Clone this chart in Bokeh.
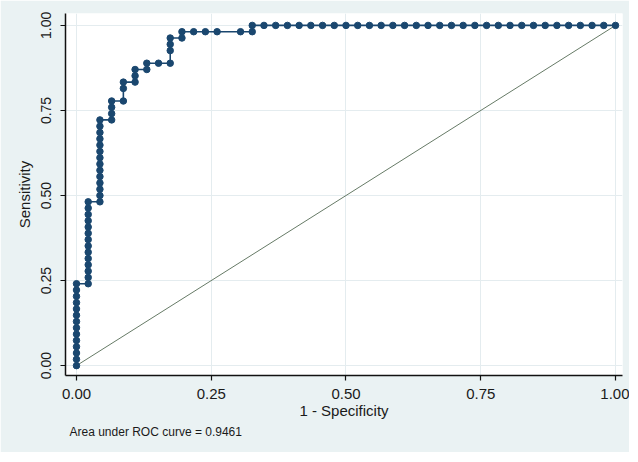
from bokeh.plotting import figure
from bokeh.models import Range1d, Title, FixedTicker, NumeralTickFormatter
from bokeh.embed import file_html
from bokeh.resources import INLINE

# ROC points: counts of negatives (46) and positives (54)
n_neg = 46
n_pos = 54
fp_count = [0, 0, 0, 0, 0, 0, 0, 0, 0, 0, 0, 0, 0, 0,
            1, 1, 1, 1, 1, 1, 1, 1, 1, 1, 1, 1, 1, 1,
            2, 2, 2, 2, 2, 2, 2, 2, 2, 2, 2, 2, 2, 2,
            3, 3, 3, 3,
            4, 4, 4,
            5, 5, 5,
            6, 6,
            7,
            8, 8, 8, 8,
            9, 9,
            10, 11, 12, 14,
            15, 15,
            16, 17, 18, 19, 20, 21, 22, 23, 24, 25, 26, 27, 28, 29, 30, 31,
            32, 33, 34, 35, 36, 37, 38, 39, 40, 41, 42, 43, 44, 45, 46]
tp_count = [0, 1, 2, 3, 4, 5, 6, 7, 8, 9, 10, 11, 12, 13,
            13, 14, 15, 16, 17, 18, 19, 20, 21, 22, 23, 24, 25, 26,
            26, 27, 28, 29, 30, 31, 32, 33, 34, 35, 36, 37, 38, 39,
            39, 40, 41, 42,
            42, 44, 45,
            45, 46, 47,
            47, 48,
            48,
            48, 50, 51, 52,
            52, 53,
            53, 53, 53, 53,
            53, 54,
            54, 54, 54, 54, 54, 54, 54, 54, 54, 54, 54, 54, 54, 54, 54, 54,
            54, 54, 54, 54, 54, 54, 54, 54, 54, 54, 54, 54, 54, 54, 54]
ref_x = [0.0, 1.0]
ref_y = [0.0, 1.0]
tick_values = [0.0, 0.25, 0.5, 0.75, 1.0]
auc_note = "Area under ROC curve = 0.9461"

fpr = [c / n_neg for c in fp_count]
tpr = [c / n_pos for c in tp_count]

BG = "#EAF2F3"
NAVY = "#1A476F"
FONT = "Liberation Sans"

p = figure(width=629, height=452, output_backend="svg", toolbar_location=None,
           x_range=Range1d(-0.0204, 1.013), y_range=Range1d(-0.029, 1.035),
           min_border_left=65, min_border_top=13, min_border_right=7,
           min_border_bottom=77)
p.background_fill_color = "white"
p.border_fill_color = BG
p.outline_line_color = None

p.line(ref_x, ref_y, line_color="#667A66", line_width=1)
p.line(fpr, tpr, line_color=NAVY, line_width=1.6)
p.scatter(fpr, tpr, size=6.5, fill_color=NAVY, line_color=NAVY)

for ax in (p.xaxis[0], p.yaxis[0]):
    ax.ticker = FixedTicker(ticks=tick_values)
    ax.formatter = NumeralTickFormatter(format="0.00")
    ax.axis_line_color = "#111111"
    ax.axis_line_width = 1.5
    ax.major_tick_line_color = "#111111"
    ax.major_tick_line_width = 1.2
    ax.major_tick_out = 5
    ax.major_tick_in = 0
    ax.minor_tick_line_color = None
    ax.major_label_text_font = FONT
    ax.major_label_text_font_size = "15px"
    ax.major_label_text_color = "#1a1a1a"
    ax.axis_label_text_font = FONT
    ax.axis_label_text_font_size = "15px"
    ax.axis_label_text_font_style = "normal"
    ax.axis_label_text_color = "#1a1a1a"

p.xaxis.axis_label = "1 - Specificity"
p.yaxis.axis_label = "Sensitivity"
p.yaxis.major_label_orientation = "vertical"
p.yaxis.major_label_text_font_size = "14px"
p.xaxis.major_label_standoff = 8
p.xaxis.axis_label_standoff = 0
p.yaxis.major_label_standoff = 9
p.yaxis.axis_label_standoff = 6

p.xgrid.ticker = FixedTicker(ticks=tick_values)
p.ygrid.ticker = FixedTicker(ticks=tick_values)
p.grid.grid_line_color = "#E4ECEF"
p.grid.grid_line_width = 1

note = Title(text=auc_note, align="left", text_font=FONT, text_font_size="12px",
             text_font_style="normal", text_color="#1a1a1a", offset=4, standoff=2)
p.add_layout(note, "below")

open("out.html", "w").write(file_html(p, INLINE))
